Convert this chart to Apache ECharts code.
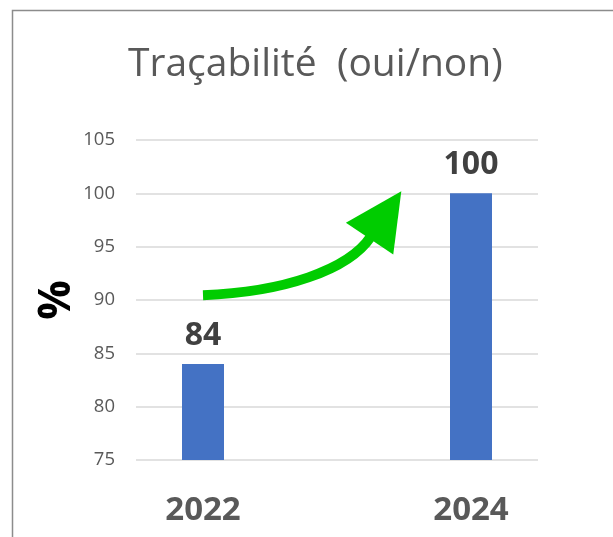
<!DOCTYPE html>
<html>
<head>
<meta charset="utf-8">
<script src="https://cdn.jsdelivr.net/npm/echarts@6/dist/echarts.min.js"></script>
<style>
  html, body { margin: 0; padding: 0; background: #fff; }
  #chart { width: 613px; height: 537px; }
</style>
</head>
<body>
<div id="chart"></div>
<script>
// Years on the category axis (the middle slot is an empty year)
const years = ['2022', '', '2024'];
// Share of traceable items, in percent
const values = [84, null, 100];
// Value axis range
const yMin = 75, yMax = 105, yStep = 5;
// Trend arrow anchors in data space: [category position, value]
const arrowStart = [0, 90.45];
const arrowTip = [1.48, 100.2];

const FONT = '"Open Sans", "DejaVu Sans", sans-serif';
const chart = echarts.init(document.getElementById('chart'), null, { renderer: 'canvas' });

chart.setOption({
  animation: false,
  backgroundColor: '#fff',
  title: {
    text: 'Traçabilité  (oui/non)',
    left: 123,
    top: 40,
    textStyle: { fontFamily: FONT, fontSize: 39, fontWeight: 'normal', color: '#595959' }
  },
  grid: { left: 136, right: 75, top: 140, bottom: 77 },
  xAxis: {
    type: 'category',
    data: years,
    axisLine: { show: false },
    axisTick: { show: false },
    axisLabel: {
      margin: 34, fontFamily: FONT, fontSize: 33, fontWeight: 'bold', color: '#595959'
    }
  },
  yAxis: {
    type: 'value',
    min: yMin, max: yMax, interval: yStep,
    name: '%',
    nameLocation: 'middle',
    nameGap: 57,
    nameMoveOverlap: false,
    nameRotate: 90,
    nameTextStyle: { fontFamily: FONT, fontSize: 44, fontWeight: 'bold', color: '#000' },
    axisLine: { show: false },
    axisTick: { show: false },
    axisLabel: { margin: 21, fontFamily: FONT, fontSize: 18.5, color: '#595959' },
    splitLine: { lineStyle: { color: '#d9d9d9', width: 1.5 } }
  },
  series: [{
    type: 'bar',
    data: values,
    barWidth: 42,
    itemStyle: { color: '#4472C4' },
    label: {
      show: true, position: 'top', distance: 12,
      fontFamily: FONT, fontSize: 32, fontWeight: 'bold', color: '#404040'
    }
  }]
});

// Pixel position of a fractional category position on the x axis
function toPixel(pt) {
  const a = chart.convertToPixel({ seriesIndex: 0 }, [0, pt[1]]);
  const b = chart.convertToPixel({ seriesIndex: 0 }, [1, pt[1]]);
  return [a[0] + (b[0] - a[0]) * pt[0], a[1]];
}

// Frame around the chart area and the green trend arrow
function drawOverlay() {
  const p0 = toPixel(arrowStart);
  const tip = toPixel(arrowTip);
  // arrow head direction (pointing up-right) and geometry
  const dir = [0.557, -0.831];
  const nrm = [-dir[1], dir[0]];
  const headLen = 57, headHalf = 28.5;
  const base = [tip[0] - dir[0] * headLen, tip[1] - dir[1] * headLen];
  const c1 = [base[0] + nrm[0] * headHalf, base[1] + nrm[1] * headHalf];
  const c2 = [base[0] - nrm[0] * headHalf, base[1] - nrm[1] * headHalf];
  const end = [base[0] + dir[0] * 2, base[1] + dir[1] * 2];
  const cp1 = [p0[0] + 80, p0[1] - 3];
  const cp2 = [end[0] - dir[0] * 40, end[1] - dir[1] * 40];

  chart.setOption({
    graphic: [
      {
        type: 'rect', silent: true, z: 100,
        shape: { x: 12.5, y: 10.5, width: 700, height: 600 },
        style: { fill: null, stroke: '#8c8c8c', lineWidth: 1.5 }
      },
      {
        type: 'bezierCurve', silent: true, z: 50,
        shape: {
          x1: p0[0], y1: p0[1], cpx1: cp1[0], cpy1: cp1[1],
          cpx2: cp2[0], cpy2: cp2[1], x2: end[0], y2: end[1]
        },
        style: { fill: null, stroke: '#00CC00', lineWidth: 10 }
      },
      {
        type: 'polygon', silent: true, z: 51,
        shape: { points: [tip, c1, c2] },
        style: { fill: '#00CC00' }
      }
    ]
  });
}
drawOverlay();
</script>
</body>
</html>
